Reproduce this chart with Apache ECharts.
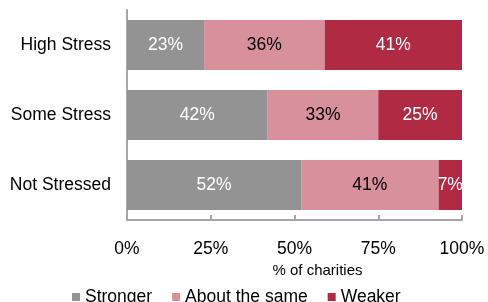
<!DOCTYPE html>
<html>
<head>
<meta charset="utf-8">
<script src="https://cdn.jsdelivr.net/npm/echarts@6/dist/echarts.min.js"></script>
<style>
html, body { margin: 0; padding: 0; background: #fff; }
#chart { width: 488px; height: 302px; }
</style>
</head>
<body>
<div id="chart"></div>
<script>
// 类别与数据
var categories = ['High Stress', 'Some Stress', 'Not Stressed'];
var stronger = [23, 42, 52];
var aboutSame = [36, 33, 41];
var weaker = [41, 25, 7];
var tickValues = [0, 25, 50, 75, 100];

var font = 'Liberation Sans, Arial, sans-serif';
var fs = 17.5;

function seriesOf(name, data, color, labelColor) {
	return {
		name : name,
		type : 'bar',
		stack : 'total',
		barWidth : 50,
		data : data,
		itemStyle : {
			color : color
		},
		label : {
			show : true,
			position : 'inside',
			formatter : '{c}%',
			color : labelColor,
			fontFamily : font,
			fontSize : fs
		}
	};
}

var chart = echarts.init(document.getElementById('chart'));
var option = {
	animation : false,
	textStyle : {
		fontFamily : font
	},
	grid : {
		left : 127,
		right : 26,
		top : 10,
		bottom : 82
	},
	legend : {
		top : 288,
		left : 72,
		padding : 0,
		itemWidth : 8,
		itemHeight : 8,
		itemGap : 20,
		icon : 'rect',
		textStyle : {
			fontSize : fs,
			color : '#000',
			fontFamily : font
		},
		data : [ 'Stronger', 'About the same', 'Weaker' ]
	},
	xAxis : {
		type : 'value',
		min : 0,
		max : 100,
		interval : 25,
		name : '% of charities',
		nameLocation : 'middle',
		nameGap : 41,
		nameTextStyle : {
			fontSize : 15,
			color : '#000',
			fontFamily : font,
			padding : [ 0, 0, 0, 46 ]
		},
		axisLine : {
			show : true,
			lineStyle : {
				color : '#a6a6a6',
				width : 2
			}
		},
		axisTick : {
			show : true,
			inside : true,
			length : 5,
			lineStyle : {
				color : '#a6a6a6',
				width : 2
			}
		},
		splitLine : {
			show : false
		},
		axisLabel : {
			margin : 20,
			fontSize : fs,
			color : '#000',
			fontFamily : font,
			formatter : function(v) {
				return tickValues.indexOf(v) >= 0 ? v + '%' : '';
			}
		}
	},
	yAxis : {
		type : 'category',
		inverse : true,
		data : categories,
		axisLine : {
			show : true,
			lineStyle : {
				color : '#a6a6a6',
				width : 2
			}
		},
		axisTick : {
			show : false
		},
		axisLabel : {
			margin : 16,
			fontSize : fs,
			color : '#000',
			fontFamily : font
		}
	},
	series : [
		seriesOf('Stronger', stronger, '#939393', '#fff'),
		seriesOf('About the same', aboutSame, '#d8909c', '#000'),
		seriesOf('Weaker', weaker, '#b12a43', '#fff')
	]
};
chart.setOption(option);
</script>
</body>
</html>
